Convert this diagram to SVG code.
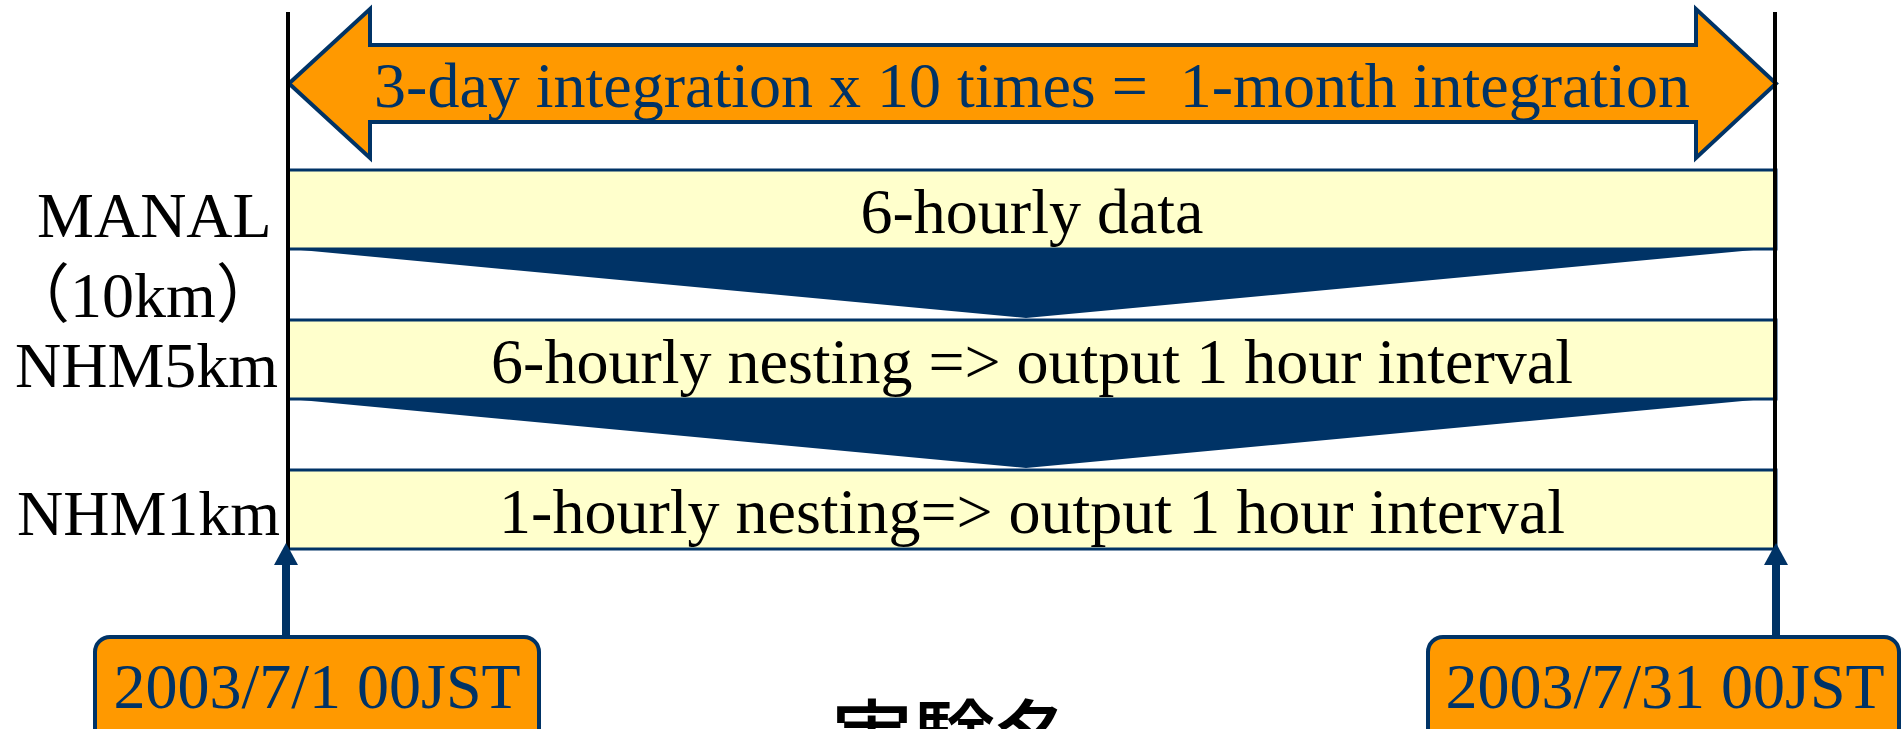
<svg xmlns="http://www.w3.org/2000/svg" width="1903" height="729" viewBox="0 0 1903 729">
  <style>
    .serif { font-family: "Liberation Serif", "Noto Sans CJK JP", serif; font-size: 64px; }
    .label { fill: #000000; }
    .navytext { fill: #003366; }
    .bar { fill: #FFFFCC; stroke: #003366; stroke-width: 3; }
    .funnel { fill: #003366; }
    .guide { stroke: #000000; stroke-width: 4; fill: none; }
    .date { fill: #FF9900; stroke: #003366; stroke-width: 4; }
    .pointer { stroke: #003366; stroke-width: 8; fill: none; marker-end: url(#head); }
  </style>
  <defs>
    <marker id="head" markerUnits="userSpaceOnUse" viewBox="0 0 22 24" markerWidth="22" markerHeight="24" refX="5" refY="12" orient="auto">
      <path d="M0,0 L22,12 L0,24 Z" fill="#003366"/>
    </marker>
  </defs>

  <rect width="1903" height="729" fill="#ffffff"/>

  <!-- integration span arrow -->
  <g id="span">
    <polygon points="289,83.5 370,9 370,45 1696,45 1696,9 1776,83.5 1696,158 1696,122 370,122 370,158" fill="#FF9900" stroke="#003366" stroke-width="4" stroke-linejoin="miter"/>
    <text class="serif navytext" x="1032" y="107" text-anchor="middle" xml:space="preserve">3-day integration x 10 times =  1-month integration</text>
  </g>

  <!-- model bars -->
  <g id="manal">
    <rect class="bar" x="288" y="170" width="1488" height="79"/>
    <text class="serif label" x="1032" y="233" text-anchor="middle">6-hourly data</text>
  </g>
  <g id="nhm5km">
    <rect class="bar" x="288" y="320" width="1488" height="79"/>
    <text class="serif label" x="1032" y="383" text-anchor="middle">6-hourly nesting =&gt; output 1 hour interval</text>
  </g>
  <g id="nhm1km">
    <rect class="bar" x="288" y="470" width="1488" height="79"/>
    <text class="serif label" x="1032" y="533" text-anchor="middle">1-hourly nesting=&gt; output 1 hour interval</text>
  </g>

  <!-- row labels -->
  <g id="labels">
    <text class="serif label" x="37" y="237">MANAL</text>
    <text class="serif label" x="6" y="317">（10km）</text>
    <text class="serif label" x="15" y="387">NHM5km</text>
    <text class="serif label" x="17" y="535">NHM1km</text>
  </g>

  <!-- start / end dates -->
  <g id="start">
    <rect class="date" x="95" y="637" width="444" height="130" rx="15" ry="15"/>
    <text class="serif navytext" x="317" y="708" text-anchor="middle">2003/7/1 00JST</text>
  </g>
  <g id="end">
    <rect class="date" x="1428" y="637" width="471" height="130" rx="15" ry="15"/>
    <text class="serif navytext" x="1665" y="708" text-anchor="middle">2003/7/31 00JST</text>
  </g>

  <g id="caption">
    <text x="954" y="768" text-anchor="middle" font-family="'Noto Sans CJK JP', sans-serif" font-size="82" font-weight="500" fill="#000000">実験名</text>
  </g>

  <!-- connectors: nesting funnels, period guides, date pointers -->
  <g id="connectors">
    <polygon class="funnel" points="290,249 1764,249 1026,318"/>
    <polygon class="funnel" points="290,399 1764,399 1026,468"/>
    <line class="guide" x1="288" y1="12" x2="288" y2="550"/>
    <line class="guide" x1="1775" y1="12" x2="1775" y2="550"/>
    <line class="pointer" x1="286" y1="637" x2="286" y2="560"/>
    <line class="pointer" x1="1776" y1="637" x2="1776" y2="560"/>
  </g>
</svg>
